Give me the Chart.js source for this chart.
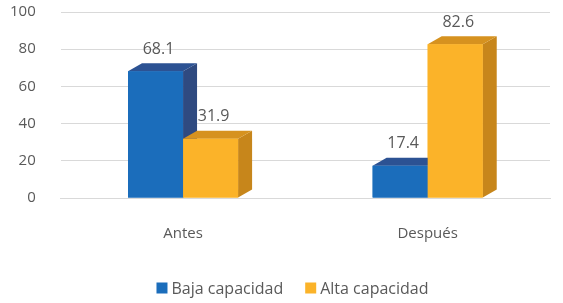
<!DOCTYPE html>
<html><head><meta charset="utf-8">
<script src="https://cdn.jsdelivr.net/npm/chart.js@4.4.0/dist/chart.umd.min.js"></script>
<style>html,body{margin:0;padding:0;background:#fff}#w{width:563px;height:303px}</style>
</head><body><div id="w"><canvas id="c"></canvas></div>
<script>
const categories = ["Antes", "Después"];
const bajaCapacidad = [68.1, 17.4];
const altaCapacidad = [31.9, 82.6];
const yTicks = [0, 20, 40, 60, 80, 100];

const FONT = "'Open Sans', 'Noto Sans', sans-serif";
const GRAY = "#595959";
const faces = [
  {front:"#1B6DBB", top:"#2C5293", side:"#2F4A80"},
  {front:"#FBB329", top:"#D6921F", side:"#C7861B"}
];

const bar3d = {
  id: "bar3d",
  afterDatasetsDraw(chart) {
    const ctx = chart.ctx;
    const dx = 14, dy = 8;
    const n = chart.data.labels.length;
    for (let i = 0; i < n; i++) {
      chart.data.datasets.forEach((ds, d) => {
        const el = chart.getDatasetMeta(d).data[i];
        const p = el.getProps(["x","y","base","width"], true);
        const l = p.x - p.width/2, r = p.x + p.width/2;
        ctx.save();
        ctx.fillStyle = faces[d].side;
        ctx.beginPath();
        ctx.moveTo(r, p.y); ctx.lineTo(r+dx, p.y-dy); ctx.lineTo(r+dx, p.base-dy); ctx.lineTo(r, p.base);
        ctx.closePath(); ctx.fill();
        ctx.fillStyle = faces[d].top;
        ctx.beginPath();
        ctx.moveTo(l, p.y); ctx.lineTo(l+dx, p.y-dy); ctx.lineTo(r+dx, p.y-dy); ctx.lineTo(r, p.y);
        ctx.closePath(); ctx.fill();
        ctx.restore();
        el.draw(ctx);
      });
    }
    ctx.save();
    ctx.font = "16px " + FONT;
    ctx.fillStyle = GRAY;
    ctx.textAlign = "center";
    ctx.textBaseline = "bottom";
    chart.data.datasets.forEach((ds, d) => {
      chart.getDatasetMeta(d).data.forEach((el, i) => {
        const p = el.getProps(["x","y"], true);
        ctx.fillText(ds.data[i].toFixed(1), p.x + dx/2 - 4, p.y - dy - 6);
      });
    });
    ctx.restore();
  },
  afterDraw(chart) {
    // legend
    const ctx = chart.ctx;
    ctx.save();
    ctx.font = "16px " + FONT;
    ctx.textBaseline = "middle";
    ctx.textAlign = "left";
    const box = 11, gapText = 4, gapItem = 22;
    const items = chart.data.datasets.map((ds, d) => ({text: ds.label, color: faces[d].front, w: ctx.measureText(ds.label).width}));
    const total = items.reduce((s, it) => s + box + gapText + it.w, 0) + gapItem * (items.length - 1);
    let x = chart.width / 2 - total / 2 + 11;
    const y = chart.height - 15;
    items.forEach(it => {
      ctx.fillStyle = it.color;
      ctx.fillRect(x, y - box/2, box, box);
      x += box + gapText;
      ctx.fillStyle = GRAY;
      ctx.fillText(it.text, x, y + 1);
      x += it.w + gapItem;
    });
    ctx.restore();
  }
};

new Chart(document.getElementById("c"), {
  type: "bar",
  data: {
    labels: categories,
    datasets: [
      {label: "Baja capacidad", data: bajaCapacidad, backgroundColor: faces[0].front},
      {label: "Alta capacidad", data: altaCapacidad, backgroundColor: faces[1].front}
    ]
  },
  options: {
    responsive: true,
    maintainAspectRatio: false,
    animation: false,
    layout: {padding: {top: 0, right: 13, left: 7, bottom: 0}},
    datasets: {bar: {barPercentage: 1, categoryPercentage: 0.45}},
    plugins: {
      legend: {display: false},
      tooltip: {enabled: false}
    },
    scales: {
      x: {
        afterFit(scale) { scale.height = 105; },
        grid: {display: true, drawOnChartArea: false, drawTicks: true, tickLength: 25, tickColor: "rgba(0,0,0,0)", color: "#d9d9d9"},
        border: {display: true, color: "#d9d9d9"},
        ticks: {color: GRAY, font: {family: FONT, size: 15}, padding: 2}
      },
      y: {
        min: 0, max: 100,
        afterBuildTicks(scale) { scale.ticks = yTicks.map(v => ({value: v})); },
        grid: {color: "#d9d9d9", drawTicks: true, tickLength: 22, tickColor: "rgba(0,0,0,0)"},
        border: {display: false},
        ticks: {color: GRAY, font: {family: FONT, size: 15}, padding: 3}
      }
    }
  },
  plugins: [bar3d]
});
</script>
</body></html>
